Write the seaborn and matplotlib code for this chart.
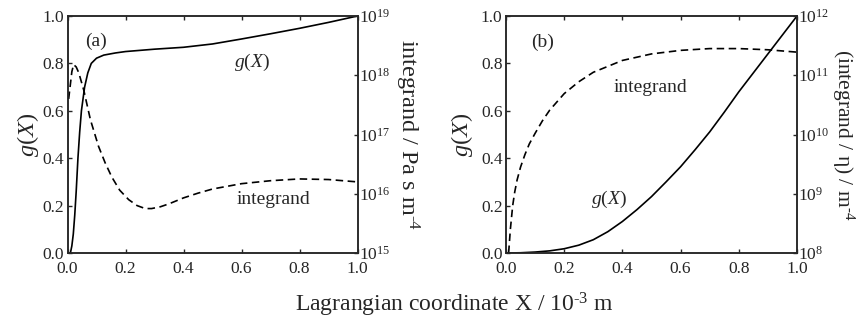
import numpy as np
import pandas as pd
import matplotlib
matplotlib.use("Agg")
import matplotlib.pyplot as plt
import seaborn as sns
from matplotlib.ticker import LogLocator, FuncFormatter, NullLocator

# ---- data ----
# panel (a)
xa_g = [0.0, 0.01, 0.015, 0.02, 0.025, 0.03, 0.036, 0.042, 0.048, 0.059, 0.07, 0.082,
        0.1, 0.125, 0.165, 0.2, 0.3, 0.4, 0.5, 0.6, 0.7, 0.8, 0.9, 1.0]
ga = [0.0, 0.0, 0.03, 0.08, 0.16, 0.26, 0.4, 0.51, 0.6, 0.7, 0.76, 0.8,
      0.822, 0.835, 0.844, 0.85, 0.86, 0.868, 0.882, 0.903, 0.925, 0.948, 0.973, 1.0]
xa_i = [0.004, 0.01, 0.015, 0.021, 0.03, 0.039, 0.056, 0.079, 0.107, 0.13, 0.153,
        0.18, 0.211, 0.24, 0.268, 0.29, 0.32, 0.35, 0.4, 0.45, 0.5, 0.6, 0.7, 0.8,
        0.9, 1.0]
log_ia = [17.6, 17.85, 18.06, 18.18, 18.14, 18.04, 17.75, 17.25, 16.8, 16.52, 16.28,
          16.06, 15.9, 15.8, 15.75, 15.75, 15.78, 15.83, 15.93, 16.01, 16.08, 16.17,
          16.22, 16.25, 16.24, 16.2]
# panel (b)
xb_g = [0.0, 0.05, 0.1, 0.15, 0.2, 0.25, 0.3, 0.35, 0.4, 0.45, 0.5, 0.55, 0.6, 0.65,
        0.7, 0.75, 0.8, 0.85, 0.9, 0.95, 1.0]
gb = [0.0, 0.001, 0.004, 0.009, 0.018, 0.033, 0.056, 0.09, 0.133, 0.183, 0.238, 0.3,
      0.364, 0.436, 0.511, 0.594, 0.68, 0.76, 0.84, 0.92, 1.0]
xb_i = [0.009, 0.015, 0.023, 0.03, 0.038, 0.05, 0.065, 0.08, 0.1, 0.125, 0.15, 0.2,
        0.25, 0.3, 0.4, 0.5, 0.6, 0.7, 0.8, 0.9, 1.0]
log_ib = [8.0, 8.4, 8.8, 9.03, 9.23, 9.45, 9.66, 9.84, 10.02, 10.23, 10.41, 10.69,
          10.89, 11.05, 11.25, 11.36, 11.42, 11.45, 11.45, 11.43, 11.39]

xticks = [0.0, 0.2, 0.4, 0.6, 0.8, 1.0]
xtick_labels = ["0.0", "0.2", "0.4", "0.6", "0.8", "1.0"]

sns.set_style("ticks")
plt.rcParams["font.family"] = ["Liberation Serif", "DejaVu Serif"]
plt.rcParams["mathtext.fontset"] = "custom"
plt.rcParams["mathtext.rm"] = "Liberation Serif"
plt.rcParams["mathtext.it"] = "Liberation Serif:italic"
plt.rcParams["axes.linewidth"] = 1.1

W, H = 857, 327
fig = plt.figure(figsize=(W / 100, H / 100), dpi=100)

TICK = 12.5
LAB = 17.5
ANN = 14

def pow_fmt(v, pos):
    e = int(round(np.log10(v)))
    return r"$10^{%d}$" % e

def make_panel(left_px, width_px, xg, g, xi, logi, lo, hi, rlabel, letter, ann,
               lpos, rpos, rsize):
    ax = fig.add_axes([left_px / W, (H - 253) / H, width_px / W, 237 / H])
    dfg = pd.DataFrame({"x": xg, "g": g})
    sns.lineplot(data=dfg, x="x", y="g", ax=ax, color="black", lw=1.2)
    ax.set_xlim(0, 1)
    ax.set_ylim(0, 1)
    ax.set_xticks(xticks)
    ax.set_xticklabels(xtick_labels)
    ax.set_yticks(xticks)
    ax.set_yticklabels(xtick_labels)
    ax.tick_params(direction="in", length=3, width=1, labelsize=TICK,
                   top=True, right=False)
    ax.tick_params(axis="x", pad=6)
    ax.tick_params(axis="y", pad=2.5)
    ax.set_xlabel("")
    ax.set_ylabel(r"$g(X)$", fontsize=LAB)
    ax.yaxis.set_label_coords(lpos, 0.5)
    ax.yaxis.label.set_va("center")

    ax2 = ax.twinx()
    dfi = pd.DataFrame({"x": xi, "v": [10 ** v for v in logi]})
    sns.lineplot(data=dfi, x="x", y="v", ax=ax2, color="black", lw=1.2,
                 linestyle=(0, (4.5, 2.7)))
    ax2.set_yscale("log")
    ax2.set_ylim(10 ** lo, 10 ** hi)
    ax2.yaxis.set_major_locator(LogLocator(base=10, numticks=10))
    ax2.yaxis.set_minor_locator(NullLocator())
    ax2.yaxis.set_major_formatter(FuncFormatter(pow_fmt))
    ax2.tick_params(direction="in", length=3, width=1, labelsize=TICK, pad=1)
    ax2.set_xlim(0, 1)
    ax2.set_ylabel(rlabel, fontsize=rsize, rotation=270)
    ax2.yaxis.set_label_coords(rpos, 0.5)
    ax2.yaxis.label.set_va("center")
    ax2.set_xlabel("")
    for s in ax2.spines.values():
        s.set_linewidth(1.1)

    ax.text(ann[0][0], ann[0][1], letter, fontsize=ANN, ha="center", va="center")
    ax.text(ann[1][0], ann[1][1], r"$g(X)$", fontsize=ANN, ha="center", va="center")
    ax.text(ann[2][0], ann[2][1], "integrand", fontsize=ANN, ha="center", va="center")
    return ax, ax2

make_panel(67.5, 290, xa_g, ga, xa_i, log_ia, 15, 19,
           "integrand / Pa s m$^{\u2010 4}$", "(a)",
           [(0.10, 0.895), (0.637, 0.805), (0.71, 0.224)], -0.136, 1.17, LAB)
make_panel(506, 291, xb_g, gb, xb_i, log_ib, 8, 12,
           "(integrand / η) / m$^{\u2010 4}$", "(b)",
           [(0.126, 0.89), (0.355, 0.224), (0.495, 0.697)], -0.152, 1.158, 15.5)

fig.text(454 / W, 1 - 305 / H, "Lagrangian coordinate X / 10$^{\u2010 3}$ m",
         fontsize=17, ha="center", va="center")

fig.savefig("out.png", dpi=100)
